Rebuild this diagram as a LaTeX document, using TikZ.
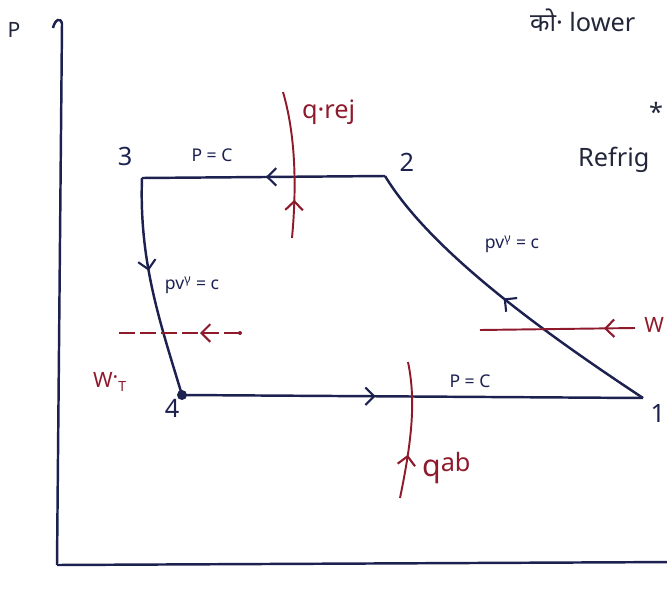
\documentclass[tikz,border=0pt]{standalone}
\usepackage{fontspec}
\setmainfont{Noto Sans}
\newfontfamily\devfont[Script=Devanagari]{Noto Sans}
\usetikzlibrary{positioning,arrows.meta,decorations.markings}
\definecolor{cLine}{HTML}{1C2150}
\definecolor{cHeat}{HTML}{8E1A2C}
\definecolor{cNote}{HTML}{22263A}
\tikzset{
  cyc/.style={draw=cLine, line width=1.4pt},
  heat/.style={draw=cHeat, line width=1.1pt},
  midarr/.style={postaction={decorate},
    decoration={markings, mark=at position #1 with {\arrow{Straight Barb[length=5pt,width=10pt,line width=1.2pt]}}}},
  ptlbl/.style={font=\Large, text=cLine, inner sep=1pt},
  lbl/.style={font=\normalsize, text=cLine, inner sep=1pt},
  hlbl/.style={font=\Large, text=cHeat, inner sep=1pt},
  note/.style={font=\Large, text=cNote, inner sep=1pt},
}

\begin{document}
\begin{tikzpicture}[x=0.02cm, y=-0.02cm]
  \useasboundingbox (0,0) rectangle (667,609);
  % axes
  \coordinate (o) at (57,565);
  \coordinate (ytop) at (62,24);
  \coordinate (xend) at (680,562);
  \draw[cyc] (o) -- (ytop) .. controls (61,17) and (55,19) .. (53,28);
  \draw[cyc] (o) -- (xend);
  \node[note, font=\large] (plbl) at (14,30) {P};

  % state points
  \coordinate (p1) at (643,398);
  \coordinate (p2) at (385,176);
  \coordinate (p3) at (142,178);
  \coordinate (p4) at (182,395);
  \node[ptlbl, below right=0.8mm and 1.1mm of p1] (n1) {1};
  \node[ptlbl, above right=0.5mm and 2.5mm of p2] (n2) {2};
  \node[ptlbl, above left=2mm and 1.5mm of p3] (n3) {3};
  \node[ptlbl, below=0.5mm of p4, xshift=-2mm] (n4) {4};

  % cycle
  \draw[cyc, midarr=0.49] (p2) -- (p3);
  \draw[cyc, midarr=0.42] (p3) .. controls (139,262) and (160,322) .. (p4);
  \draw[cyc, midarr=0.42] (p4) -- (p1);
  \draw[cyc, midarr=0.5] (p1) .. controls (540,330) and (430,250) .. (p2);
  \fill[cLine] (p4) circle (5);

  \node[lbl] (pc1) at (212,155) {P = C};
  \node[lbl] (pvg1) at (192,285) {pv\textsuperscript{γ} = c};
  \node[lbl] (pvg2) at (512,244) {pv\textsuperscript{γ} = c};
  \node[lbl] (pc2) at (470,381) {P = C};

  % heat and work
  \coordinate (qr0) at (292,238);
  \coordinate (qr1) at (283,92);
  \draw[heat, midarr=0.26] (qr0) .. controls (296,195) and (297,140) .. (qr1);
  \node[hlbl, anchor=west] (qrej) at (300,112) {q·rej};

  \coordinate (qa0) at (400,498);
  \coordinate (qa1) at (408,362);
  \draw[heat, midarr=0.32] (qa0) .. controls (412,440) and (416,400) .. (qa1);
  \node[hlbl, anchor=west, font=\LARGE] (qab) at (420,468) {q\raisebox{3pt}{\Large ab}};

  \coordinate (wt0) at (240,333);
  \coordinate (wt1) at (115,333);
  \draw[heat, dashed, dash pattern=on 9pt off 3pt, midarr=0.32] (wt0) -- (wt1);
  \fill[cHeat] (wt0) circle (2);
  \node[hlbl, font=\large] (wt) at (110,382) {W\raisebox{2pt}{·}\textsubscript{T}};

  \coordinate (wc0) at (635,328);
  \coordinate (wc1) at (480,330);
  \draw[heat, midarr=0.2] (wc0) -- (wc1);
  \node[hlbl, anchor=east, font=\large] (wc) at (666,325) {W};

  % notes at the right edge
  \node[note, anchor=west] (nt1) at (528,20) {{\devfont को}· lower};
  \node[note] (nt2) at (656,112) {*};
  \node[note, anchor=west] (nt3) at (576,160) {Refrig};
\end{tikzpicture}
\end{document}
